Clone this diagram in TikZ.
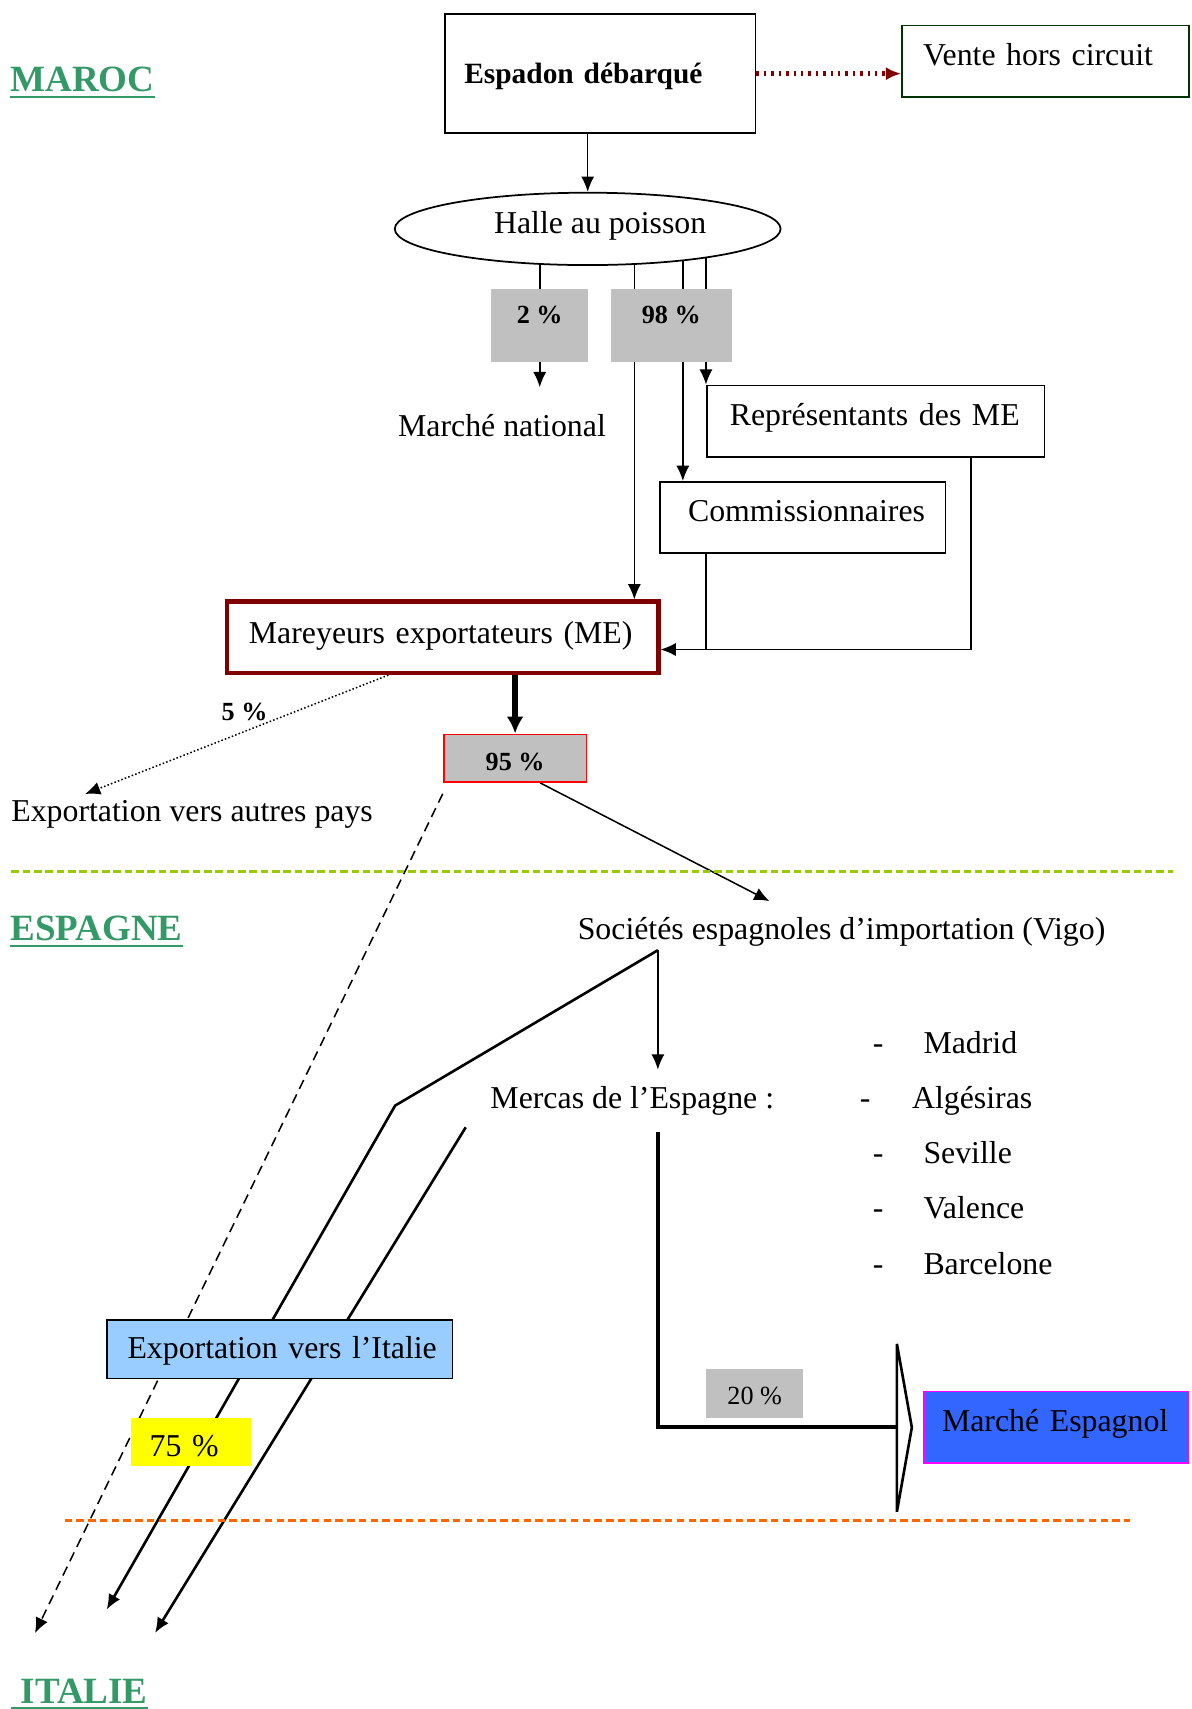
\documentclass[tikz,border=0pt]{standalone}
\usepackage{fontspec}
\setmainfont{Liberation Serif}
\usepackage{tikz}
\usetikzlibrary{shapes,arrows.meta,positioning,calc,backgrounds}
\definecolor{vertpays}{RGB}{51,153,102}
\definecolor{rougefonce}{RGB}{128,0,0}
\definecolor{vertfonce}{RGB}{0,51,0}
\definecolor{grisclair}{RGB}{192,192,192}
\definecolor{bleuclair}{RGB}{153,204,255}
\definecolor{bleuvif}{RGB}{51,102,255}
\definecolor{rose}{RGB}{255,0,255}
\definecolor{jaunevif}{RGB}{255,255,0}
\definecolor{rougevif}{RGB}{255,0,0}
\definecolor{vertjaune}{RGB}{153,204,0}
\definecolor{orangevif}{RGB}{255,102,0}
\tikzset{
texte/.style = {font=\fontsize{14.6}{17}\selectfont, inner sep=0pt, anchor=base west},
titre/.style = {font=\fontsize{17}{20}\selectfont\bfseries, text=vertpays, inner sep=0pt, anchor=base west},
souligne/.style = {draw=vertpays, line width=1.2pt},
boite/.style = {draw, fill=white, rectangle, line width=0.8pt, inner ysep=0pt, text height=18.2pt, text depth=14.6pt, align=left, font=\fontsize{14.6}{17}\selectfont},
halle/.style = {draw, fill=white, ellipse, line width=0.8pt, minimum width=177pt, minimum height=33.2pt},
pourcent/.style = {fill=grisclair, rectangle, inner sep=0pt, align=center, font=\fontsize{12}{14}\selectfont\bfseries},
trait/.style = {line width=0.7pt},
fleche/.style = {->, line width=0.7pt},
fleche epaisse/.style = {-{Latex[length=7.7pt,width=7.7pt]}, line width=2.7pt},
fleche italie/.style = {->, line width=1.2pt},
trait epais/.style = {line width=1.8pt},
fleche creuse/.style = {draw, fill=white, line width=1.2pt, line join=miter},
fleche rouge/.style = {-{Latex[length=7pt,width=6pt]}, draw=rougefonce, line width=2.2pt, dash pattern=on 1.1pt off 2.3pt},
fleche pointillee/.style = {->, line width=0.7pt, densely dotted},
fleche tiretee/.style = {->, line width=0.7pt, dash pattern=on 4.5pt off 2.8pt}
}
\begin{document}
\begin{tikzpicture}[x=0.5pt, y=-0.5pt, >={Latex[length=7pt,width=6pt]}]
\useasboundingbox (0,0) rectangle (1093,1568);

% pays
\node[titre] (maroc) at (9.1,84.3) {MAROC};
\node[titre] (espagne) at (9.1,863) {ESPAGNE};
\node[titre] (italie) at (10.1,1562.5) {\ ITALIE};
\foreach \p in {maroc,espagne,italie}
  \draw[souligne] ([yshift=-2.4pt]\p.base west) -- ([yshift=-2.4pt]\p.base east);

% frontieres
\draw[vertjaune, line width=1.4pt, dash pattern=on 3.4pt off 1.8pt] (10.5,799.7) -- (1076,799.7);
\draw[orangevif, line width=1.4pt, dash pattern=on 3.4pt off 2pt] (59.3,1395.2) -- (1036.5,1395.2);

% Maroc
\node[boite, font=\fontsize{13.5}{16}\selectfont\bfseries, text width=124.8pt, inner xsep=8.85pt, text height=31.75pt, text depth=22.85pt] (espadon) at (550.75,67.6) {\mbox{Espadon débarqué}};
\node[boite, draw=vertfonce, text width=112.25pt, inner xsep=9.7pt] (vente) at (959.25,56.15) {\mbox{Vente hors circuit}};
\node[halle] (halle) at (539.2,210) {};
\node[texte] (halletexte) at (452.9,214.1) {Halle au poisson};
\node[pourcent, minimum width=44.4pt, text height=15.85pt, text depth=17.6pt] (p2) at (495.2,298.45) {2 \%};
\node[pourcent, minimum width=55.35pt, text height=15.85pt, text depth=17.6pt, right=10.1pt of p2] (p98) {98 \%};
\node[texte] (national) at (364.9,400.7) {Marché national};
\node[boite, text width=133.8pt, inner xsep=10.55pt] (rep) at (803.4,386.5) {\mbox{Représentants des ME}};
\node[boite, text width=105.2pt, inner xsep=12.9pt] (comm) at (736.5,474.9) {\mbox{Commissionnaires}};
\node[boite, draw=rougefonce, line width=1.9pt, text width=177.75pt, inner xsep=10.1pt, text height=19.25pt, text depth=13.55pt] (me) at (406.15,584.7) {\mbox{Mareyeurs exportateurs (ME)}};
\node[pourcent, draw=rougevif, line width=0.9pt, minimum width=65.5pt, text height=16.35pt, text depth=5.4pt] (p95) at (472.6,695.65) {95 \%};
\node[texte, font=\fontsize{12}{14}\selectfont\bfseries] (cinq) at (203,660.7) {5 \%};
\node[texte] (autres) at (10,754) {Exportation vers autres pays};

% Espagne
\node[texte] (societes) at (529.7,862) {Sociétés espagnoles d’importation (Vigo)};
\node[texte, inner ysep=7.5pt] (mercas) at (449.6,1017) {Mercas de l’Espagne :};
\foreach \ville/\xv/\xt/\yb [count=\i] in {Madrid/846.9/800.5/966.2, Algésiras/836.4/788.5/1017, Seville/846.9/800.5/1067.8, Valence/846.9/800.5/1117.9, Barcelone/846.9/800.5/1169.4}{
  \node[texte] (tiret\i) at (\xt,\yb) {-};
  \node[texte] (ville\i) at (\xv,\yb) {\ville};
}
\node[boite, fill=bleuclair, text width=139.8pt, inner xsep=9.3pt, text height=17.55pt, text depth=9.15pt] (exportitalie) at (256.8,1238) {\mbox{Exportation vers l’Italie}};
\node[pourcent, font=\fontsize{12}{14}\selectfont, minimum width=44.25pt, text height=16.05pt, text depth=6.3pt] (p20) at (692.45,1278.65) {20 \%};
\node[boite, draw=rose, fill=bleuvif, text width=104.55pt, inner xsep=8.3pt] (marche) at (968.85,1309.55) {\mbox{Marché Espagnol}};
\node[pourcent, fill=jaunevif, font=\fontsize{14.6}{17}\selectfont, align=left, text width=37.65pt, inner xsep=8.7pt, text height=17.75pt, text depth=4.4pt] (p75) at (174.95,1322.85) {\mbox{75 \%}};

\coordinate (voie1) at (582,210);
\coordinate (voie2) at (626.5,210);
\coordinate (jonction) at (891,595.9);
\coordinate (autrespays) at (78,728.5);
\coordinate (vigo) at (706,826.8);
\coordinate (sommet) at (603.6,871.8);
\coordinate (coude) at (362.5,1014.4);
\coordinate (depart) at (427.3,1034.3);
\coordinate (italie1) at (32.1,1498.3);
\coordinate (italie2) at (97.9,1476.8);
\coordinate (italie3) at (142.2,1498.3);
\coordinate (pointe) at (822.9,1309.6);

\begin{scope}[on background layer]
\draw[fleche] (espadon.south -| halle.north) -- (halle.north);
\draw[fleche] (halle.center -| p2.south) -- (p2.south) -- ++(0,23);
\draw[fleche] (voie1) -- (voie1 |- me.north);
\draw[fleche] (voie2) -- (voie2 |- comm.north);
\draw[fleche] (halle.center -| rep.west) -- (rep.north west);
\draw[fleche] (rep.south -| jonction) -- (jonction) -- (jonction -| me.east);
\draw[trait] (comm.south -| rep.west) -- (rep.west |- jonction);
\draw[fleche pointillee] ([xshift=-24.9pt]me.south) -- (autrespays);
\draw[fleche tiretee] ([yshift=-5pt]p95.south west) -- (italie1);
\draw[fleche] ([xshift=11.5pt]p95.south) -- (vigo);
\draw[fleche] (sommet) -- (sommet |- mercas.north);
\draw[fleche italie] (sommet) -- (coude) -- (italie2);
\draw[fleche italie] (depart) -- (italie3);
\draw[trait epais] (sommet |- mercas.south) |- (pointe);
\end{scope}
\draw[fleche rouge] (espadon.east) -- (espadon.east -| vente.west);
\draw[fleche epaisse] (me.south -| p95.north) -- (p95.north);
\draw[fleche creuse] (pointe) ++(0,-76.6) -- ++(13.7,76.6) -- ++(-13.7,77.4) -- cycle;
\end{tikzpicture}
\end{document}
